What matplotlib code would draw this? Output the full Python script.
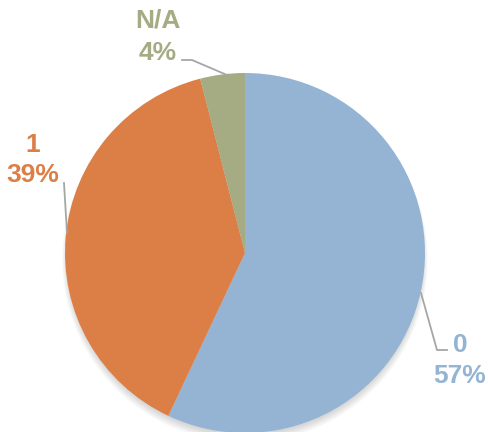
import matplotlib
matplotlib.use("Agg")
import matplotlib.pyplot as plt
from matplotlib.patches import Circle

labels = ["0", "1", "N/A"]
values = [57, 39, 4]
colors = ["#95B4D4", "#DC7F46", "#A5AB82"]
# (x centre, baseline of name line, baseline of percent line) in pixels from top
label_pos = [(460, 352, 383), (33, 152, 182), (158, 28, 60)]

W, H = 488, 432
fig = plt.figure(figsize=(W / 100, H / 100), dpi=100)
ax = fig.add_axes([0, 0, 1, 1])

cx, cy, r = 245, H - 253, 180

# soft shadow (mostly below)
for i in range(8):
    ax.add_patch(Circle((cx, cy - 4 - i * 0.4), r - 2 + i * 0.7, color="black",
                        alpha=0.02, lw=0, zorder=0))

ax.pie(values, colors=colors, startangle=90, counterclock=False,
       center=(cx, cy), radius=r, frame=True,
       wedgeprops=dict(linewidth=0))
ax.set_xlim(0, W)
ax.set_ylim(0, H)
ax.set_aspect("equal")
ax.axis("off")

font = dict(family=["Liberation Sans", "DejaVu Sans"], fontweight="bold", fontsize=19)
for lab, v, col, (x, y1, y2) in zip(labels, values, colors, label_pos):
    ax.text(x, H - y1, lab, color=col, ha="center", va="baseline", **font)
    ax.text(x, H - y2, f"{v}%", color=col, ha="center", va="baseline", **font)

lc = "#A6A6A6"
leaders = [
    [(421, 293), (437, 350), (447, 350)],
    [(67, 233), (64, 183)],
    [(227, 75), (192, 60), (182, 60)],
]
for pts in leaders:
    xs = [p[0] for p in pts]
    ys = [H - p[1] for p in pts]
    ax.plot(xs, ys, color=lc, lw=1.3, zorder=5)

fig.savefig("out.png", dpi=100)
